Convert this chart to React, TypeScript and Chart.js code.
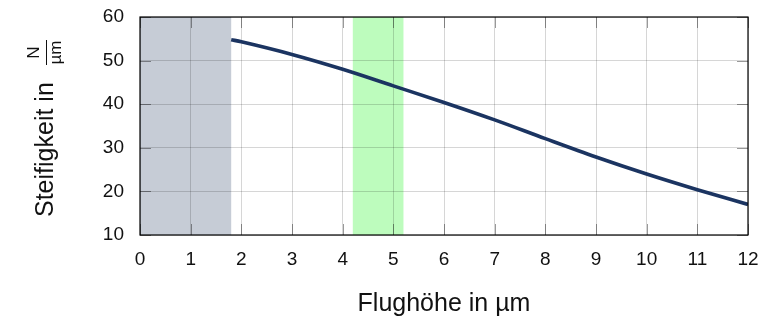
import React, { useEffect, useRef } from 'react';
import { Chart, registerables } from 'chart.js';

Chart.register(...registerables);

const flightHeight = [1.8, 2, 3, 4, 5, 6, 7, 8, 9, 10, 11, 12];
const stiffness = [54.8, 54.3, 51.4, 48.0, 44.2, 40.4, 36.4, 32.1, 27.9, 24.0, 20.4, 17.0];
const xRange = [0, 12];
const yRange = [10, 60];
const grayBand = [0, 1.8];
const greenBand = [4.2, 5.2];
const xTitle = 'Flughöhe in µm';
const yTitle = 'Steifigkeit in';
const yUnitNum = 'N';
const yUnitDen = 'µm';

const FONT = '"Liberation Sans", Arial, Helvetica, sans-serif';

const bandsPlugin = {
  id: 'bands',
  beforeDraw(chart: any) {
    const { ctx, chartArea: a, scales } = chart;
    const x = scales.x;
    ctx.save();
    ctx.fillStyle = '#ffffff';
    ctx.fillRect(0, 0, chart.width, chart.height);
    ctx.fillStyle = '#c6ccd6';
    const g0 = x.getPixelForValue(grayBand[0]);
    const g1 = x.getPixelForValue(grayBand[1]);
    ctx.fillRect(g0, a.top, g1 - g0, a.bottom - a.top);
    ctx.fillStyle = '#bdfcbd';
    const h0 = x.getPixelForValue(greenBand[0]);
    const h1 = x.getPixelForValue(greenBand[1]);
    ctx.fillRect(h0, a.top, h1 - h0, a.bottom - a.top);
    ctx.restore();
  },
};

const framePlugin = {
  id: 'frame',
  afterDraw(chart: any) {
    const { ctx, chartArea: a, scales } = chart;
    ctx.save();
    ctx.strokeStyle = 'rgba(0,0,0,0.4)';
    ctx.lineWidth = 1;
    const L = 11;
    scales.x.ticks.forEach((t: any) => {
      const px = Math.round(scales.x.getPixelForValue(t.value)) + 0.5;
      ctx.beginPath();
      ctx.moveTo(px, a.top);
      ctx.lineTo(px, a.top + L);
      ctx.moveTo(px, a.bottom);
      ctx.lineTo(px, a.bottom - L);
      ctx.stroke();
    });
    scales.y.ticks.forEach((t: any) => {
      const py = Math.round(scales.y.getPixelForValue(t.value)) + 0.5;
      ctx.beginPath();
      ctx.moveTo(a.left, py);
      ctx.lineTo(a.left + L, py);
      ctx.moveTo(a.right, py);
      ctx.lineTo(a.right - L, py);
      ctx.stroke();
    });
    ctx.strokeStyle = '#000000';
    ctx.lineWidth = 1.2;
    ctx.strokeRect(a.left, a.top, a.right - a.left, a.bottom - a.top);

    ctx.fillStyle = '#111111';
    ctx.font = `25px ${FONT}`;
    ctx.textAlign = 'center';
    ctx.textBaseline = 'alphabetic';
    ctx.fillText(xTitle, (a.left + a.right) / 2, 311);

    ctx.save();
    ctx.rotate(-Math.PI / 2);
    ctx.textAlign = 'left';
    ctx.font = `25px ${FONT}`;
    ctx.fillText(yTitle, -217, 53);
    ctx.font = `17px ${FONT}`;
    ctx.textAlign = 'center';
    ctx.fillText(yUnitNum, -52.5, 39);
    ctx.fillText(yUnitDen, -52.5, 61);
    ctx.strokeStyle = '#111111';
    ctx.lineWidth = 1;
    ctx.beginPath();
    ctx.moveTo(-65, 46.5);
    ctx.lineTo(-40, 46.5);
    ctx.stroke();
    ctx.restore();

    ctx.restore();
  },
};

export default function App() {
  const ref = useRef<HTMLCanvasElement>(null);
  useEffect(() => {
    if (!ref.current) return;
    const chart = new Chart(ref.current, {
      type: 'line',
      data: {
        datasets: [
          {
            data: flightHeight.map((x, i) => ({ x, y: stiffness[i] })),
            borderColor: '#1b3461',
            borderWidth: 3.6,
            pointRadius: 0,
            cubicInterpolationMode: 'monotone',
            fill: false,
          },
        ],
      },
      options: {
        animation: false,
        responsive: false,
        maintainAspectRatio: false,
        layout: { padding: { left: 0, right: 32, top: 17, bottom: 0 } },
        plugins: { legend: { display: false }, tooltip: { enabled: false } },
        scales: {
          x: {
            type: 'linear',
            min: xRange[0],
            max: xRange[1],
            afterFit: (s: any) => { s.height = 83; s.paddingLeft = 0; s.paddingRight = 0; },
            border: { display: false },
            grid: { color: 'rgba(0,0,0,0.16)', lineWidth: 1, drawTicks: false },
            ticks: {
              stepSize: 1,
              padding: 13,
              color: '#111111',
              font: { family: FONT, size: 19 },
              maxRotation: 0,
              autoSkip: false,
            },
          },
          y: {
            type: 'linear',
            min: yRange[0],
            max: yRange[1],
            afterFit: (s: any) => { s.width = 140; s.paddingTop = 0; s.paddingBottom = 0; },
            border: { display: false },
            grid: { color: 'rgba(0,0,0,0.16)', lineWidth: 1, drawTicks: false },
            ticks: {
              stepSize: 10,
              padding: 16,
              color: '#111111',
              font: { family: FONT, size: 19 },
            },
          },
        },
      },
      plugins: [bandsPlugin, framePlugin],
    } as any);
    return () => chart.destroy();
  }, []);
  return (
    <div style={{ position: 'fixed', left: 0, top: 0, width: 780, height: 318 }}>
      <canvas ref={ref} width={780} height={318} style={{ display: 'block', width: 780, height: 318 }} />
    </div>
  );
}
